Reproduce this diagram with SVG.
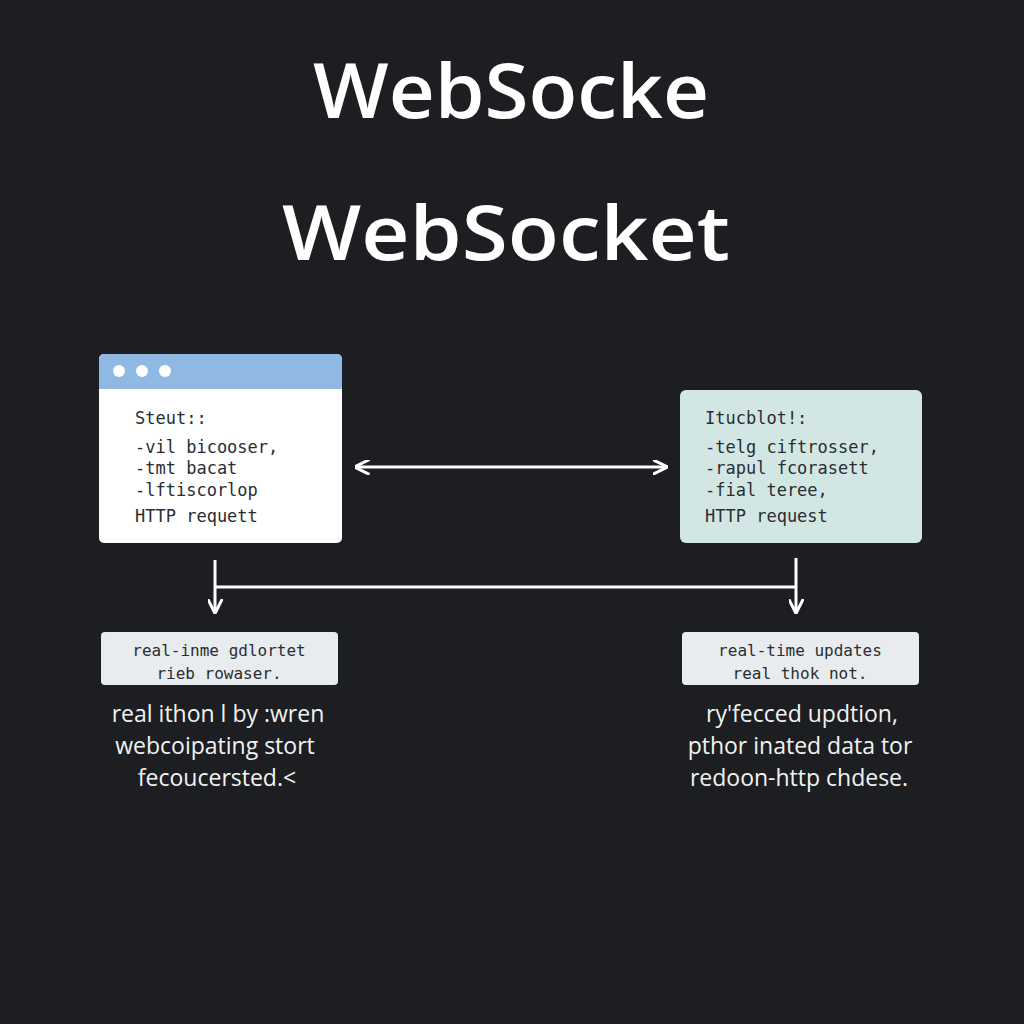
<svg xmlns="http://www.w3.org/2000/svg" width="1024" height="1024" viewBox="0 0 1024 1024">
<style>
.t{font-family:"Open Sans","Liberation Sans",Arial,sans-serif;fill:#fff;font-weight:600;font-size:76px;text-anchor:middle}
.m{font-family:"DejaVu Sans Mono","Liberation Mono",monospace;font-size:17px;fill:#2a2e33}
.c{font-family:"Open Sans","Liberation Sans",Arial,sans-serif;font-size:23px;fill:#f2f2f2;text-anchor:middle}
.p{font-family:"DejaVu Sans Mono","Liberation Mono",monospace;font-size:16px;fill:#2a2e33;text-anchor:middle}
.l{stroke:#fff;stroke-width:3;fill:none}
</style>
<defs>
<marker id="a" viewBox="0 0 10 10" refX="9" refY="5" markerWidth="5" markerHeight="5" orient="auto-start-reverse"><path d="M0,0L10,5L0,10" fill="none" stroke="#fff" stroke-width="2"/></marker>
</defs>
<rect width="1024" height="1024" fill="#1c1e21"/>
<text class="t" x="511" y="118" textLength="396" lengthAdjust="spacingAndGlyphs">WebSocke</text>
<text class="t" x="506" y="260" textLength="448" lengthAdjust="spacingAndGlyphs">WebSocket</text>
<g id="client">
<rect x="99" y="354" width="243" height="189" rx="5" fill="#fff"/>
<path d="M99,389V359a5,5 0 0 1 5,-5H337a5,5 0 0 1 5,5V389Z" fill="#8fb8e3"/>
<circle cx="119" cy="371" r="6" fill="#fff"/><circle cx="142" cy="371" r="6" fill="#fff"/><circle cx="165" cy="371" r="6" fill="#fff"/>
<text class="m" x="135" y="424">Steut::</text>
<text class="m" x="135" y="453">-vil bicooser,</text>
<text class="m" x="135" y="474">-tmt bacat</text>
<text class="m" x="135" y="496">-lftiscorlop</text>
<text class="m" x="135" y="522">HTTP requett</text>
</g>
<g id="server">
<rect x="680" y="390" width="242" height="153" rx="6" fill="#d2e6e4"/>
<text class="m" x="705" y="424">Itucblot!:</text>
<text class="m" x="705" y="453">-telg ciftrosser,</text>
<text class="m" x="705" y="474">-rapul fcorasett</text>
<text class="m" x="705" y="496">-fial teree,</text>
<text class="m" x="705" y="522">HTTP request</text>
</g>
<g id="connectors">
<line class="l" x1="356" y1="467" x2="666" y2="467" marker-start="url(#a)" marker-end="url(#a)"/>
<line class="l" x1="215" y1="587" x2="796" y2="587"/>
<line class="l" x1="215" y1="560" x2="215" y2="612" marker-end="url(#a)"/>
<line class="l" x1="796" y1="558" x2="796" y2="612" marker-end="url(#a)"/>
</g>
<g id="pill-left">
<rect x="101" y="632" width="237" height="53" rx="4" fill="#e8ecef"/>
<text class="p" x="219" y="656">real-inme gdlortet</text>
<text class="p" x="219" y="679">rieb rowaser.</text>
</g>
<g id="pill-right">
<rect x="682" y="632" width="237" height="53" rx="4" fill="#e8ecef"/>
<text class="p" x="800" y="656">real-time updates</text>
<text class="p" x="800" y="679">real thok not.</text>
</g>
<g id="caption-left">
<text class="c" x="218" y="722">real ithon l by :wren</text>
<text class="c" x="215" y="754">webcoipating stort</text>
<text class="c" x="217" y="786">fecoucersted.&lt;</text>
</g>
<g id="caption-right">
<text class="c" x="802" y="722">ry'fecced updtion,</text>
<text class="c" x="800" y="754">pthor inated data tor</text>
<text class="c" x="799" y="786">redoon-http chdese.</text>
</g>
</svg>
